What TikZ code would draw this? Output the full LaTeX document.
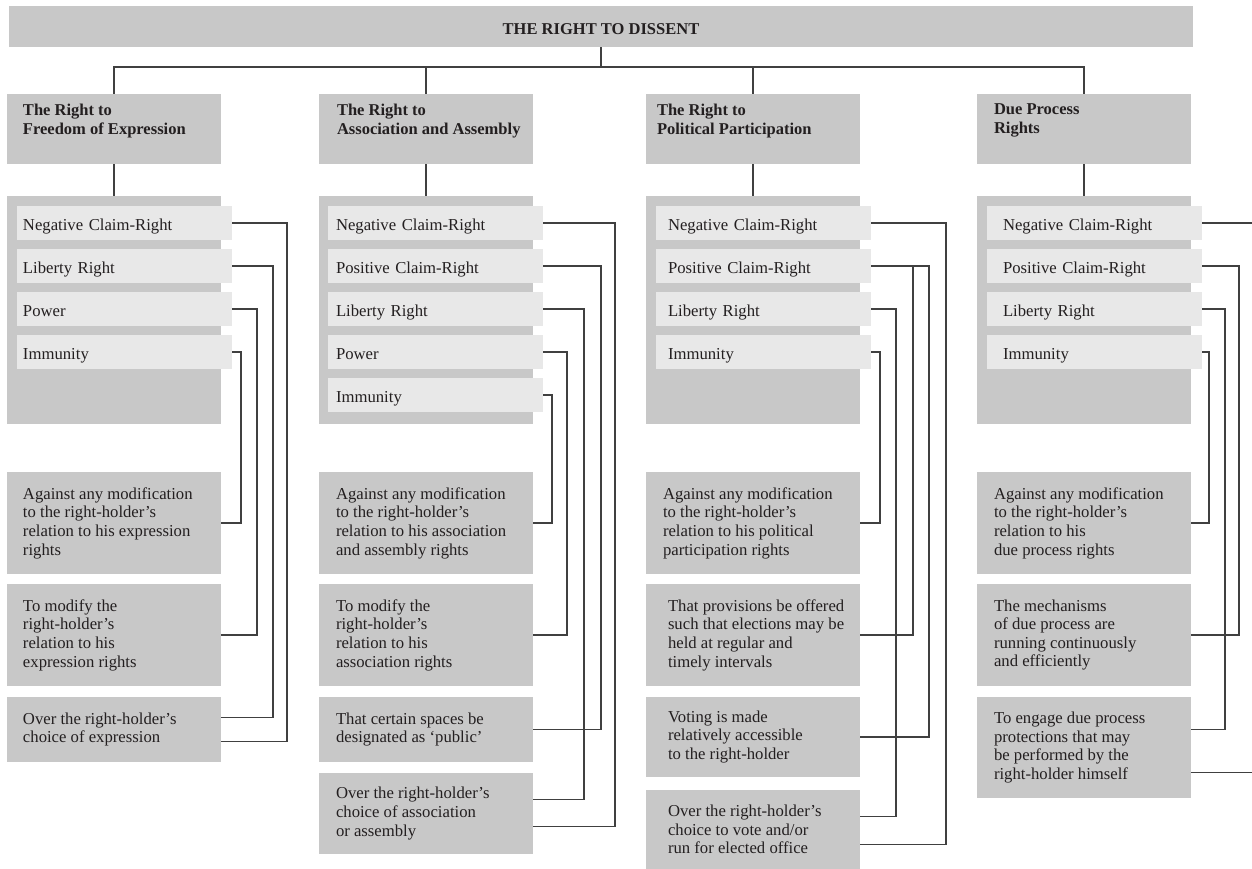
\documentclass[tikz,border=0pt]{standalone}
\usepackage{fontspec}
\setmainfont{Liberation Serif}
\usetikzlibrary{positioning,calc}

\newdimen\pxu
\pxu=0.02cm

\definecolor{boxgray}{RGB}{200,200,200}
\definecolor{itemgray}{RGB}{232,232,232}
\definecolor{linegray}{RGB}{64,64,64}
\definecolor{inkgray}{RGB}{35,31,32}

\tikzset{
  every node/.style={inner sep=0pt, outer sep=0pt, text=inkgray,
    font=\fontsize{9.5}{10.6}\selectfont},
  titlebar/.style={fill=boxgray, anchor=north west, minimum width=1184\pxu,
    minimum height=41\pxu, text height=9.2pt, text depth=0pt,
    font=\fontsize{9.4}{10.6}\selectfont\bfseries},
  hdrbox/.style={fill=boxgray, anchor=north west, minimum width=214\pxu, minimum height=70\pxu},
  hdrtxt/.style={anchor=north west, align=left, font=\fontsize{9.4}{10.8}\selectfont\bfseries},
  mainbox/.style={fill=boxgray, anchor=north west, minimum width=214\pxu, minimum height=228\pxu},
  itembox/.style 2 args={fill=itemgray, anchor=north west, minimum width=215\pxu,
    minimum height=34\pxu, inner xsep=#1\pxu, text width=#2\pxu, align=left,
    text height=8pt, text depth=0pt},
  lowbox/.style={fill=boxgray, anchor=north west, minimum width=214\pxu, minimum height=#1\pxu},
  lowtxt/.style={anchor=west, align=left},
  conn/.style={draw=linegray, line width=0.8pt},
}

\begin{document}
\begin{tikzpicture}[x=0.02cm, y=-0.02cm]
\useasboundingbox (0,0) rectangle (1252,869);
\coordinate (edge) at (1252,0);

% top of the tree
\node[titlebar] (root) at (9,6) {THE RIGHT TO DISSENT};
\coordinate (bus) at (601,67);
\draw[conn] (root.south) -- (bus);

% headers and main boxes
\foreach \h/\x/\dx/\txt in {fe/7/16/{The Right to\\Freedom of Expression},
  as/319/18/{The Right to\\Association and Assembly},
  pp/646/11/{The Right to\\Political Participation},
  dp/977/17/{Due Process\\Rights}}
{
  \node[hdrbox] (\h) at (\x,94) {};
  \node[hdrtxt] (\h-t) at (\x+\dx,104) {\txt};
  \node[mainbox] (\h-m) at (\x,196) {};
  \draw[conn] (bus) -| (\h.north);
  \draw[conn] (\h.south) -- (\h-m.north);
}

% column 1: expression
\foreach \k/\id/\txt in {0/n/Negative Claim-Right, 1/l/Liberty Right, 2/p/Power, 3/i/Immunity}
  \node[itembox={6}{203}] (fe\id) at (17,206+43*\k) {\txt};
\foreach \id/\y/\h/\txt in {
  1/472/102/{Against any modification\\to the right-holder’s\\relation to his expression\\rights},
  2/584/102/{To modify the\\right-holder’s\\relation to his\\expression rights},
  3/697/65/{Over the right-holder’s\\choice of expression}}
{
  \node[lowbox=\h] (fe\id) at (7,\y) {};
  \node[lowtxt] (fe\id t) at ([xshift=16\pxu]fe\id.west) {\txt};
}
\draw[conn] (fen.east) -- ++(55,0) |- ([shift={(0,12)}]fe3.east);
\draw[conn] (fel.east) -- ++(41,0) |- ([shift={(0,-12)}]fe3.east);
\draw[conn] (fep.east) -- ++(25,0) |- (fe2.east);
\draw[conn] (fei.east) -- ++(9,0) |- (fe1.east);

% column 2: association and assembly
\foreach \k/\id/\txt in {0/n/Negative Claim-Right, 1/c/Positive Claim-Right, 2/l/Liberty Right, 3/p/Power, 4/i/Immunity}
  \node[itembox={8}{199}] (as\id) at (328,206+43*\k) {\txt};
\foreach \id/\y/\h/\txt in {
  1/472/102/{Against any modification\\to the right-holder’s\\relation to his association\\and assembly rights},
  2/584/102/{To modify the\\right-holder’s\\relation to his\\association rights},
  3/697/65/{That certain spaces be\\designated as ‘public’},
  4/773/81/{Over the right-holder’s\\choice of association\\or assembly}}
{
  \node[lowbox=\h] (as\id) at (319,\y) {};
  \node[lowtxt] (as\id t) at ([xshift=17\pxu]as\id.west) {\txt};
}
\draw[conn] (asn.east) -- ++(72,0) |- ([shift={(0,13)}]as4.east);
\draw[conn] (asc.east) -- ++(58,0) |- (as3.east);
\draw[conn] (asl.east) -- ++(41,0) |- ([shift={(0,-14)}]as4.east);
\draw[conn] (asp.east) -- ++(24,0) |- (as2.east);
\draw[conn] (asi.east) -- ++(9,0) |- (as1.east);

% column 3: political participation
\foreach \k/\id/\txt in {0/n/Negative Claim-Right, 1/c/Positive Claim-Right, 2/l/Liberty Right, 3/i/Immunity}
  \node[itembox={12}{191}] (pp\id) at (656,206+43*\k) {\txt};
\foreach \id/\y/\h/\dx/\txt in {
  1/472/102/17/{Against any modification\\to the right-holder’s\\relation to his political\\participation rights},
  2/584/102/22/{That provisions be offered\\such that elections may be\\held at regular and\\timely intervals},
  3/697/80/22/{Voting is made\\relatively accessible\\to the right-holder},
  4/790/79/22/{Over the right-holder’s\\choice to vote and/or\\run for elected office}}
{
  \node[lowbox=\h] (pp\id) at (646,\y) {};
  \node[lowtxt] (pp\id t) at ([xshift=\dx\pxu]pp\id.west) {\txt};
}
\draw[conn] (ppn.east) -- ++(75,0) |- ([shift={(0,15)}]pp4.east);
\draw[conn] (ppc.east) -- ++(58,0) |- (pp3.east);
\draw[conn] (ppc.east) -- ++(42,0) |- (pp2.east);
\draw[conn] (ppl.east) -- ++(25,0) |- ([shift={(0,-13)}]pp4.east);
\draw[conn] (ppi.east) -- ++(9,0) |- (pp1.east);

% column 4: due process
\foreach \k/\id/\txt in {0/n/Negative Claim-Right, 1/c/Positive Claim-Right, 2/l/Liberty Right, 3/i/Immunity}
  \node[itembox={16}{183}] (dp\id) at (987,206+43*\k) {\txt};
\foreach \id/\y/\h/\txt in {
  1/472/102/{Against any modification\\to the right-holder’s\\relation to his\\due process rights},
  2/584/102/{The mechanisms\\of due process are\\running continuously\\and efficiently},
  3/697/101/{To engage due process\\protections that may\\be performed by the\\right-holder himself}}
{
  \node[lowbox=\h] (dp\id) at (977,\y) {};
  \node[lowtxt] (dp\id t) at ([xshift=17\pxu]dp\id.west) {\txt};
}
\coordinate (dpx) at ([shift={(0,25)}]dp3.east);
\draw[conn] (dpn.east) -- (dpn.east -| edge);
\draw[conn] (dpc.east) -- ++(37,0) |- (dp2.east);
\draw[conn] (dpl.east) -- ++(23,0) |- ([shift={(0,-18)}]dp3.east);
\draw[conn] (dpi.east) -- ++(7,0) |- (dp1.east);
\draw[conn] (dpx) -- (dpx -| edge);
\end{tikzpicture}
\end{document}
